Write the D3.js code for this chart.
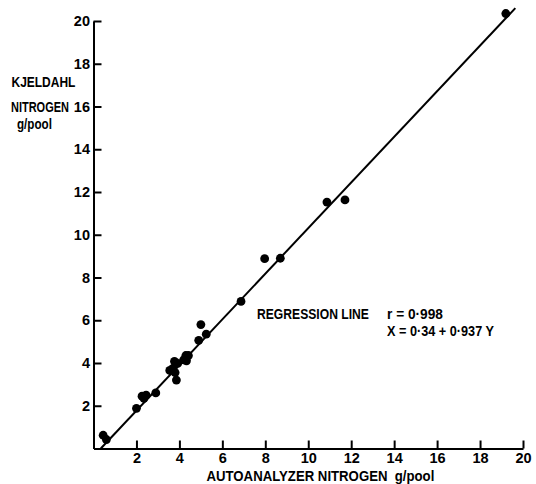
<!DOCTYPE html>
<html>
<head>
<meta charset="utf-8">
<script src="https://cdnjs.cloudflare.com/ajax/libs/d3/7.8.5/d3.min.js"></script>
<style>
  body { margin: 0; background: #fff; }
  text { font-family: "Liberation Sans", Arial, sans-serif; font-weight: bold; fill: #000; }
</style>
</head>
<body>
<div id="chart"></div>
<script>
// autoanalyzer (x) vs kjeldahl (y) nitrogen, g/pool
var autoN = [0.45, 0.6, 2.0, 2.26, 2.35, 2.45, 2.9, 3.55, 3.7, 3.8, 3.77, 3.86, 3.92,
             4.2, 4.3, 4.42, 4.33, 4.9, 5.0, 5.25, 6.87, 7.97, 8.7, 10.87, 11.71, 19.2]
var kjelN = [0.62, 0.42, 1.88, 2.45, 2.35, 2.5, 2.6, 3.65, 3.75, 3.55, 4.08, 3.2, 3.98,
             4.15, 4.35, 4.35, 4.1, 5.06, 5.8, 5.35, 6.88, 8.88, 8.9, 11.53, 11.63, 20.35]

var tickValues = [2, 4, 6, 8, 10, 12, 14, 16, 18, 20]

// regression X = a + b*Y, drawn for Y over this span
var regA = 0.34, regB = 0.937
var regY = [0, 20.6]

var width = 536, height = 484

var svg = d3.select("#chart").append("svg")
    .attr("width", width)
    .attr("height", height)

var x = d3.scaleLinear().domain([0, 20]).range([93.5, 523])
var y = d3.scaleLinear().domain([0, 20]).range([448.5, 21])

// axes, ticks point inward
var xAxis = d3.axisBottom(x).tickValues(tickValues).tickSizeInner(-8).tickSizeOuter(0).tickPadding(4)
var yAxis = d3.axisLeft(y).tickValues(tickValues).tickSizeInner(-8).tickSizeOuter(0).tickPadding(3.5)

var gx = svg.append("g")
    .attr("transform", "translate(0," + y(0) + ")")
    .call(xAxis)
var gy = svg.append("g")
    .attr("transform", "translate(" + x(0) + ",0)")
    .call(yAxis)

svg.selectAll(".domain, .tick line")
    .attr("stroke", "#000")
    .attr("stroke-width", 2)
svg.selectAll(".tick text")
    .style("font-family", "Liberation Sans, Arial, sans-serif")
    .style("font-weight", "bold")
    .style("font-size", "14.5px")
    .attr("fill", "#000")

// regression line
svg.append("line")
    .attr("x1", x(regA + regB * regY[0]))
    .attr("y1", y(regY[0]))
    .attr("x2", x(regA + regB * regY[1]))
    .attr("y2", y(regY[1]))
    .attr("stroke", "#000")
    .attr("stroke-width", 2)

// points
svg.selectAll("circle.pt")
    .data(autoN)
    .enter().append("circle")
    .attr("class", "pt")
    .attr("cx", function(d) { return x(d) })
    .attr("cy", function(d, i) { return y(kjelN[i]) })
    .attr("r", 4.4)
    .attr("fill", "#000")

// squeeze a label horizontally so it spans len px (the print face is narrow)
function label(t, lx, ly, len) {
  var el = svg.append("text")
      .style("font-size", "14px")
      .text(t)
  var w = el.node().getComputedTextLength()
  el.attr("transform", "translate(" + lx + "," + ly + ") scale(" + (len / w) + ",1)")
  return el
}

// y axis title, three lines
label("KJELDAHL", 11.5, 87, 64)
label("NITROGEN", 11, 111.5, 58)
label("g/pool", 17, 129, 35)

// x axis title
label("AUTOANALYZER NITROGEN\u00a0\u00a0g/pool", 206.5, 481, 228)

// regression note
label("REGRESSION LINE", 257, 319, 112)
label("r = 0\u00b7998", 387, 319, 56)
label("X = 0\u00b734 + 0\u00b7937 Y", 387, 336, 107)
</script>
</body>
</html>
